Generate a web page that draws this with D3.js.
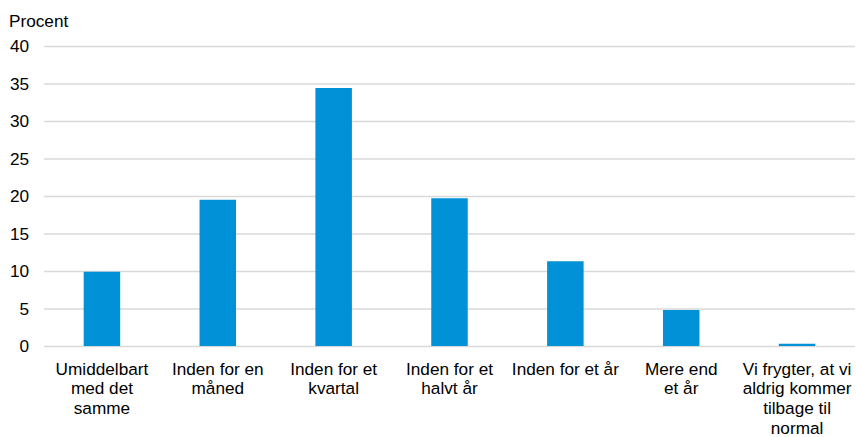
<!DOCTYPE html>
<html>
<head>
<meta charset="utf-8">
<script src="https://cdn.jsdelivr.net/npm/d3@7"></script>
<style>
  html, body { margin: 0; padding: 0; background: #fff; }
  svg { display: block; }
  text { font-family: "Liberation Sans", Arial, sans-serif; fill: #000; }
</style>
</head>
<body>
<svg id="chart" width="856" height="437"></svg>
<script>
const categories = [
  "Umiddelbart\nmed det\nsamme",
  "Inden for en\nmåned",
  "Inden for et\nkvartal",
  "Inden for et\nhalvt år",
  "Inden for et år",
  "Mere end\net år",
  "Vi frygter, at vi\naldrig kommer\ntilbage til\nnormal"
];
const values = [9.9, 19.5, 34.4, 19.7, 11.3, 4.8, 0.3];
const yTicks = [0, 5, 10, 15, 20, 25, 30, 35, 40];
const yTitle = "Procent";

const svg = d3.select("#chart");
const margin = { left: 44, right: 1, top: 46, bottom: 91 };
const W = 856, H = 437;
const fontSize = 17.2;

const x = d3.scaleBand()
  .domain(categories)
  .range([margin.left, W - margin.right])
  .paddingInner(0.685)
  .paddingOuter(0.3425);

const y = d3.scaleLinear()
  .domain([0, 40])
  .range([H - margin.bottom, margin.top]);

// gridlines
const yAxis = d3.axisLeft(y).tickValues(yTicks)
  .tickSize(-(W - margin.right - margin.left)).tickPadding(15).tickFormat(d3.format("d"));
const gy = svg.append("g")
  .attr("transform", `translate(${margin.left},0)`)
  .call(yAxis);
gy.select(".domain").remove();
gy.selectAll(".tick line").attr("stroke", "#d9d9d9").attr("stroke-width", 1.3);
gy.selectAll(".tick text")
  .style("font-size", fontSize + "px")
  .attr("font-family", "Liberation Sans, Arial, sans-serif")
  .attr("fill", "#000");

// bars
svg.append("g").selectAll("rect")
  .data(values)
  .join("rect")
  .attr("x", (d, i) => x(categories[i]))
  .attr("width", x.bandwidth())
  .attr("y", d => y(d))
  .attr("height", d => y(0) - y(d))
  .attr("fill", "#0091d6");

// x axis labels
const xAxis = d3.axisBottom(x).tickSize(0).tickPadding(0).tickFormat("");
const gx = svg.append("g")
  .attr("transform", `translate(0,${y(0)})`)
  .call(xAxis);
gx.select(".domain").remove();
gx.selectAll(".tick").each(function(d) {
  const t = d3.select(this).append("text")
    .attr("text-anchor", "middle")
    .style("font-size", fontSize + "px")
    .attr("fill", "#000");
  d.split("\n").forEach((line, i) => {
    t.append("tspan").attr("x", 0).attr("y", 28.5 + i * 19.7).text(line);
  });
});

// y title
svg.append("text")
  .attr("x", 9)
  .attr("y", 27)
  .style("font-size", fontSize + "px")
  .text(yTitle);
</script>
</body>
</html>
